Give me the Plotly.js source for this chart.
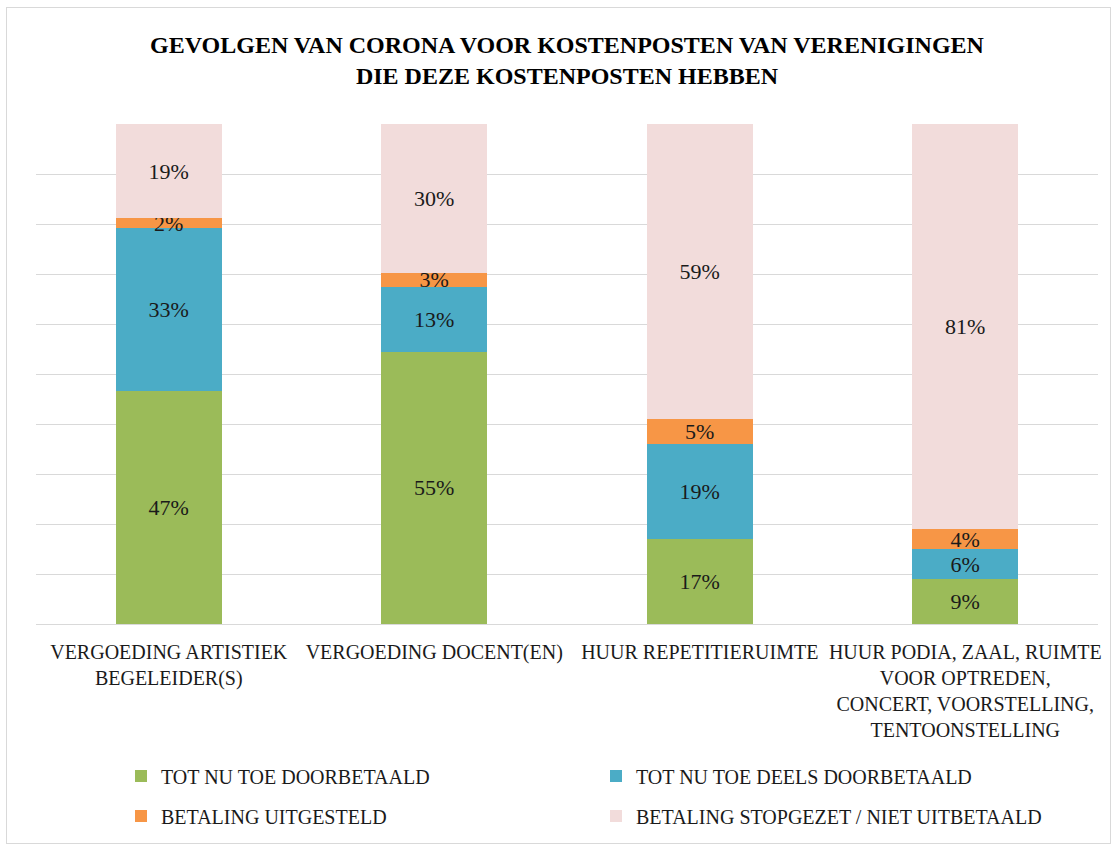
<!DOCTYPE html>
<html>
<head>
<meta charset="utf-8">
<script src="https://cdn.plot.ly/plotly-3.0.1.min.js"></script>
<style>
html,body{margin:0;padding:0;background:#fff;}
#wrap{position:relative;width:1116px;height:846px;}
#chart{width:1116px;height:846px;}
#frame{position:absolute;left:6px;top:7px;width:1103px;height:835px;border:1px solid #d9d9d9;pointer-events:none;}
</style>
</head>
<body>
<div id="wrap"><div id="chart"></div><div id="frame"></div></div>
<script>
var categories = [
  "VERGOEDING ARTISTIEK<br>BEGELEIDER(S)",
  "VERGOEDING DOCENT(EN)",
  "HUUR REPETITIERUIMTE",
  "HUUR PODIA, ZAAL, RUIMTE<br>VOOR OPTREDEN,<br>CONCERT, VOORSTELLING,<br>TENTOONSTELLING"
];
var seriesNames = [
  "TOT NU TOE DOORBETAALD",
  "TOT NU TOE DEELS DOORBETAALD",
  "BETALING UITGESTELD",
  "BETALING STOPGEZET / NIET UITBETAALD"
];
var doorbetaald = [47, 55, 17, 9];
var deelsDoorbetaald = [33, 13, 19, 6];
var uitgesteld = [2, 3, 5, 4];
var stopgezet = [19, 30, 59, 81];
var colors = ["#9BBB59", "#4BACC6", "#F79646", "#F2DCDB"];

var FONT = "Liberation Serif, Times New Roman, serif";
var allValues = [doorbetaald, deelsDoorbetaald, uitgesteld, stopgezet];
var legendIds = ["legend", "legend", "legend2", "legend2"];

var traces = allValues.map(function (vals, i) {
  return {
    type: "bar",
    name: seriesNames[i],
    x: categories,
    y: vals,
    text: vals.map(function (v) { return v + "%"; }),
    texttemplate: "%{text}",
    textposition: "inside",
    insidetextanchor: "middle",
    constraintext: "none",
    textangle: 0,
    insidetextfont: {family: FONT, size: 22, color: "#1a1a1a"},
    marker: {color: colors[i], line: {width: 0}},
    legend: legendIds[i],
    hoverinfo: "skip"
  };
});

var layout = {
  width: 1116,
  height: 846,
  paper_bgcolor: "#ffffff",
  plot_bgcolor: "#ffffff",
  barmode: "stack",
  barnorm: "percent",
  bargap: 0.6,
  margin: {l: 36, r: 18, t: 124, b: 221, pad: 0},
  font: {family: FONT, size: 20, color: "#1a1a1a"},
  uniformtext: {mode: "show", minsize: 22},
  title: {
    text: "<b>GEVOLGEN VAN CORONA VOOR KOSTENPOSTEN VAN VERENIGINGEN<br>DIE DEZE KOSTENPOSTEN HEBBEN</b>",
    font: {family: FONT, size: 24, color: "#000000"},
    x: 0.5, xref: "paper", xanchor: "center",
    y: 1 - 53 / 846, yref: "container", yanchor: "middle"
  },
  xaxis: {
    type: "category",
    showgrid: false,
    showline: true,
    linecolor: "#d9d9d9",
    linewidth: 1,
    ticks: "",
    tickangle: 0,
    ticklabelstandoff: 10,
    tickfont: {family: FONT, size: 20, color: "#1a1a1a"},
    automargin: false
  },
  yaxis: {
    range: [0, 100],
    dtick: 10,
    showgrid: true,
    gridcolor: "#d9d9d9",
    gridwidth: 1,
    zeroline: false,
    showticklabels: false,
    ticks: "",
    fixedrange: true
  },
  showlegend: true,
  legend: {
    orientation: "h",
    x: (161 - 40 - 36) / 1062, xref: "paper", xanchor: "left",
    y: (625 - 776) / 501, yref: "paper", yanchor: "middle",
    entrywidth: 430, entrywidthmode: "pixels",
    font: {family: FONT, size: 20, color: "#1a1a1a"},
    traceorder: "normal",
    bgcolor: "rgba(0,0,0,0)"
  },
  legend2: {
    orientation: "h",
    x: (161 - 40 - 36) / 1062, xref: "paper", xanchor: "left",
    y: (625 - 816) / 501, yref: "paper", yanchor: "middle",
    entrywidth: 430, entrywidthmode: "pixels",
    font: {family: FONT, size: 20, color: "#1a1a1a"},
    traceorder: "normal",
    bgcolor: "rgba(0,0,0,0)"
  }
};

Plotly.newPlot("chart", traces, layout, {displayModeBar: false, staticPlot: true});
</script>
</body>
</html>
